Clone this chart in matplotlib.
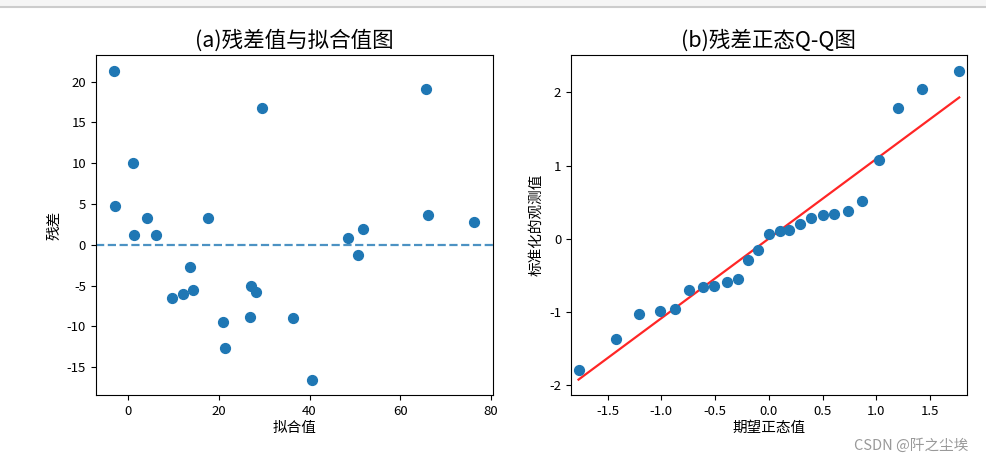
import matplotlib
matplotlib.use('Agg')
import matplotlib.pyplot as plt
from matplotlib.patches import Rectangle

plt.rcParams['font.family'] = ['Noto Sans CJK SC', 'DejaVu Sans']
plt.rcParams['axes.unicode_minus'] = False

# residuals vs fitted values
fitted = [-3.2, -2.9, 1.0, 1.3, 4.1, 6.2, 9.6, 12.0, 13.7, 14.2, 17.5, 21.0, 21.3,
          26.8, 27.1, 28.2, 29.6, 36.4, 40.6, 48.5, 50.6, 51.7, 65.7, 66.1, 76.4]
resid = [21.35, 4.8, 10.0, 1.15, 3.28, 1.15, -6.56, -5.98, -2.7, -5.57, 3.28, -9.43, -12.7,
         -8.81, -5.0, -5.74, 16.72, -9.02, -16.52, 0.78, -1.31, 1.93, 19.06, 3.69, 2.75]

# normal Q-Q plot values
theo_q = [-1.77, -1.42, -1.21, -1.01, -0.87, -0.74, -0.61, -0.51, -0.39, -0.29, -0.19, -0.10, 0.0,
          0.10, 0.19, 0.29, 0.39, 0.50, 0.61, 0.74, 0.87, 1.02, 1.20, 1.42, 1.77]
std_resid = [-1.79, -1.365, -1.03, -0.98, -0.955, -0.70, -0.66, -0.64, -0.596, -0.555, -0.296, -0.15, 0.068,
             0.105, 0.123, 0.196, 0.278, 0.32, 0.341, 0.382, 0.51, 1.07, 1.79, 2.05, 2.285]
qq_slope = 1.088
qq_intercept = 0.003

fig = plt.figure(figsize=(9.87, 4.67), dpi=100)

# screenshot top bar
fig.patches.append(Rectangle((0, 0.985), 1, 0.015, transform=fig.transFigure,
                             facecolor='#f5f5f5', edgecolor='none'))
fig.lines.append(plt.Line2D([0, 1], [0.984, 0.984], transform=fig.transFigure,
                            color='#cccccc', lw=1.5))

ax1 = fig.add_axes([0.097, 0.154, 0.402, 0.728])
ax1.scatter(fitted, resid, s=50, color='C0')
ax1.axhline(0, linestyle='--', color='C0', alpha=0.8, lw=1.6)
ax1.set_xticks([0, 20, 40, 60, 80])
ax1.set_yticks([-15, -10, -5, 0, 5, 10, 15, 20])
ax1.set_xlabel('拟合值', fontsize=10.5, labelpad=2)
ax1.set_ylabel('残差', fontsize=10.5)
ax1.set_title('(a)残差值与拟合值图', fontsize=15.5)
ax1.tick_params(labelsize=9.5)

ax2 = fig.add_axes([0.5785, 0.154, 0.401, 0.728])
ax2.scatter(theo_q, std_resid, s=50, color='C0', zorder=3)
line_x = [min(theo_q), max(theo_q)]
ax2.plot(line_x, [qq_slope * v + qq_intercept for v in line_x], color='red', alpha=0.85, lw=1.6)
ax2.set_xlim(-1.84, 1.84)
ax2.set_ylim(-2.134, 2.507)
ax2.set_xticks([-1.5, -1.0, -0.5, 0.0, 0.5, 1.0, 1.5])
ax2.set_yticks([-2, -1, 0, 1, 2])
ax2.set_xlabel('期望正态值', fontsize=10.5, labelpad=2)
ax2.set_ylabel('标准化的观测值', fontsize=10.5)
ax2.set_title('(b)残差正态Q-Q图', fontsize=15.5)
ax2.tick_params(labelsize=9.5)

fig.text(0.981, 0.045, 'CSDN @阡之尘埃', ha='right', va='center', fontsize=10.5, color='#999999')

fig.savefig('out.png', dpi=100)
